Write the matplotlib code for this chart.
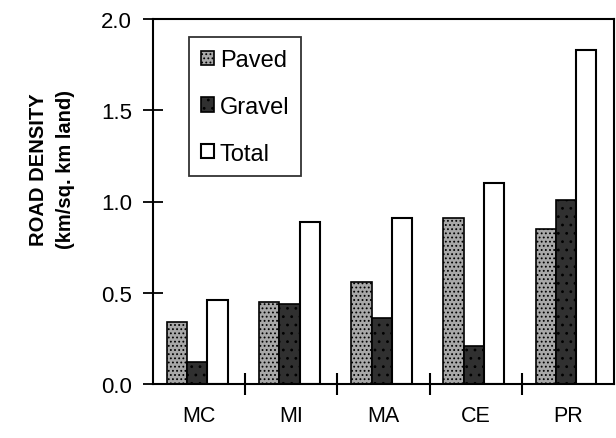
import matplotlib.pyplot as plt
import numpy as np

plt.rcParams['font.family'] = ['Liberation Sans', 'DejaVu Sans']
plt.rcParams['hatch.linewidth'] = 0.8

regions = ['MC', 'MI', 'MA', 'CE', 'PR']
paved = [0.34, 0.45, 0.56, 0.91, 0.85]
gravel = [0.12, 0.44, 0.36, 0.21, 1.01]
total = [0.46, 0.89, 0.91, 1.10, 1.83]

fig = plt.figure(figsize=(6.16, 4.39), dpi=100)
ax = fig.add_axes([153 / 616, 1 - 385 / 439, 461 / 616, 365 / 439])

x = np.arange(len(regions))
w = 0.22
ax.bar(x - w - 0.02, paved, w, color='#a8a8a8', edgecolor='black', hatch='....',
       linewidth=1.2, label='Paved')
ax.bar(x - 0.02, gravel, w, color='#303030', edgecolor='black', hatch='..',
       linewidth=1.2, label='Gravel')
ax.bar(x + w - 0.02, total, w, color='white', edgecolor='black',
       linewidth=1.5, label='Total')

ax.set_xlim(-0.5, 4.5)
ax.set_ylim(0, 2.0)
ax.set_yticks([0, 0.5, 1.0, 1.5, 2.0])
ax.set_yticklabels(['0.0', '0.5', '1.0', '1.5', '2.0'])
ax.set_xticks(x)
ax.set_xticklabels(regions)
ax.set_xticks(np.arange(0.5, 4.5, 1.0), minor=True)
ax.tick_params(axis='x', which='major', length=0, pad=15, labelsize=15.5)
ax.tick_params(axis='x', which='minor', direction='inout', length=16, width=1.5)
ax.tick_params(axis='y', direction='inout', length=14, width=1.3, labelsize=16, pad=8)
for s in ax.spines.values():
    s.set_linewidth(1.5)

ax.set_ylabel('ROAD DENSITY\n(km/sq. km land)', fontsize=14.5, fontweight='bold',
              linespacing=1.5)
ax.yaxis.set_label_coords(-0.17, 0.59)

leg = ax.legend(loc='upper left', bbox_to_anchor=(0.078, 0.95), fontsize=17,
                fancybox=False, edgecolor='black', handlelength=0.55, handleheight=0.55,
                handletextpad=0.25, labelspacing=1.05, borderpad=0.5,
                borderaxespad=0)
leg.get_frame().set_linewidth(1.3)

fig.savefig('out.png', dpi=100)
